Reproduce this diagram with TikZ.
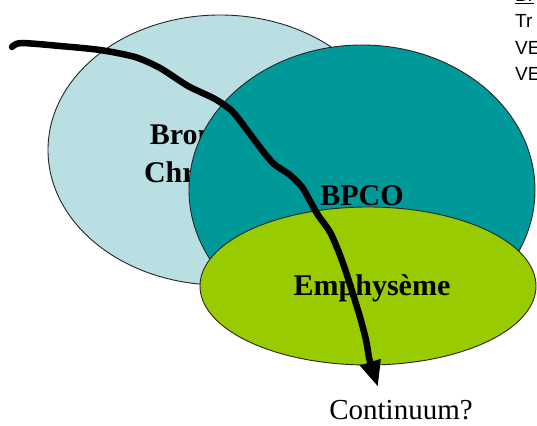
\documentclass[tikz,border=0pt]{standalone}
\usepackage{fontspec}
\setmainfont{Liberation Serif}
\newfontfamily\sansf{Liberation Sans}
\usetikzlibrary{arrows.meta}
\definecolor{bleuclair}{RGB}{185,223,227}
\definecolor{sarcelle}{RGB}{0,153,153}
\definecolor{vertpomme}{RGB}{153,204,0}
\tikzset{bulle/.style={draw=black!85,line width=0.9pt},
  titre/.style={font=\fontsize{30}{38}\selectfont\bfseries,inner sep=0pt,align=center},
  coin/.style={font=\sansf\fontsize{19}{23}\selectfont,inner sep=0pt,anchor=base west}}

\begin{document}
\begin{tikzpicture}[x=1pt,y=-1pt]
\clip(0,0)rectangle(537,425);
\fill[white](0,0)rectangle(537,425);
\draw[bulle,fill=bleuclair](220,150)ellipse[x radius=172,y radius=135];
\node[titre](BC)at(213,156){Bronchite\\Chronique};
\draw[bulle,fill=sarcelle](362,190)ellipse[x radius=173,y radius=145];
\draw[bulle,fill=vertpomme](368,286)ellipse[x radius=168,y radius=79];
\node[titre,anchor=base](BP)at(362,205){BPCO};
\node[titre,anchor=base](EM)at(372,295){Emphysème};
\coordinate(D)at(12,47);
\coordinate(F)at(378,387);
\draw[line width=6.5pt,line join=round,line cap=round,-{Triangle[length=26pt,width=20pt]}]
(D)plot[smooth,tension=0.45]coordinates{(12,47)(21,43)(60,46)(100,50)(135,57)(160,68)
(188,86)(215,99)(232,111)(247,130)(262,150)(274,164)(290,175)(302,187)(310,201)
(318,215)(330,232)(338,250)(345,269)(352,291)(360,317)(366,340)(369,358)}--(F);
\node[font=\fontsize{29}{34}\selectfont,anchor=base,inner sep=0pt](CT)at(401,419){Continuum?};
% texte coupé à droite
\node[coin](L1)at(515,2){\underline{Br}};
\node[coin](L2)at(515,28){Tr};
\node[coin](L3)at(515,55){VE};
\node[coin](L4)at(515,81){VE};
\end{tikzpicture}
\end{document}
